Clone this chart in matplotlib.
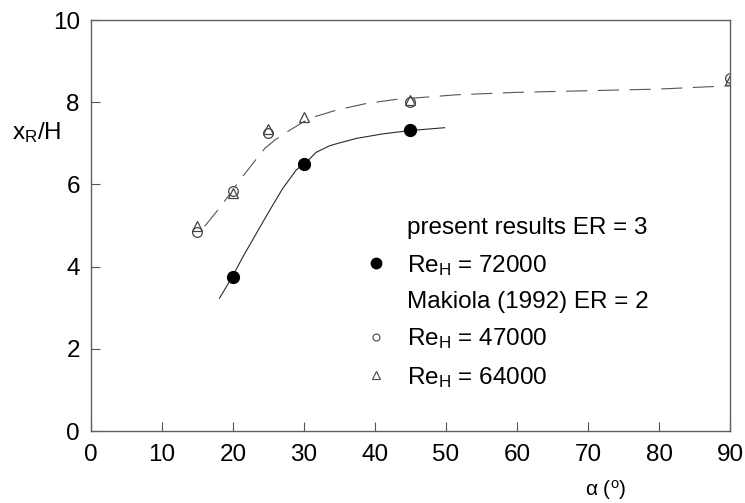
import matplotlib
matplotlib.use("Agg")
import matplotlib.pyplot as plt
from matplotlib.lines import Line2D

plt.rcParams.update({
    "font.family": ["Liberation Sans", "DejaVu Sans"],
    "font.size": 17.5,
    "mathtext.default": "regular",
})

# present results, ER = 3, Re_H = 72000
alpha_present = [20, 30, 45]
xr_present = [3.75, 6.5, 7.32]

# Makiola (1992), ER = 2
alpha_47k = [15, 20, 25, 45, 90]
xr_47k = [4.85, 5.85, 7.26, 8.01, 8.6]
alpha_64k = [15, 20, 25, 30, 45, 90]
xr_64k = [5.0, 5.8, 7.34, 7.65, 8.05, 8.55]

# fitted curves
fit_present_a = [18.1, 19.9, 21.4, 23.3, 25.2, 27.0, 28.9, 30.0, 30.8, 31.7,
                 33.6, 35.0, 37.4, 41.1, 44.9, 49.8]
fit_present_x = [3.23, 3.75, 4.24, 4.81, 5.38, 5.9, 6.35, 6.51, 6.62, 6.78,
                 6.94, 7.01, 7.12, 7.23, 7.31, 7.38]
fit_makiola_a = [16.0, 17.7, 19.1, 21.0, 22.8, 24.5, 25.9, 28.0, 30.8, 34.6,
                 38.8, 43.0, 47.7, 51.4, 60, 70, 80, 90]
fit_makiola_x = [4.98, 5.34, 5.66, 6.11, 6.51, 6.88, 7.08, 7.32, 7.61, 7.81,
                 7.97, 8.07, 8.13, 8.18, 8.24, 8.28, 8.32, 8.4]

fig = plt.figure(figsize=(7.45, 5.03), dpi=100)
ax = fig.add_axes([0.1221, 0.1431, 0.8578, 0.8171])

ax.plot(fit_present_a, fit_present_x, color="#2a2a2a", lw=0.8)
ax.plot(fit_makiola_a, fit_makiola_x, color="#555555", lw=0.8,
        linestyle=(0, (19, 9.5)))

ax.plot(alpha_present, xr_present, "o", ms=8.5, color="black",
        linestyle="none")
ax.plot(alpha_47k, xr_47k, "o", ms=7, mfc="white", mec="#444444",
        mew=0.9, linestyle="none")
ax.plot(alpha_64k, xr_64k, "^", ms=7.5, mfc="none", mec="#444444",
        mew=0.9, linestyle="none")

ax.set_xlim(0, 90)
ax.set_ylim(0, 10)
ax.set_xticks(range(0, 91, 10))
ax.set_yticks(range(0, 11, 2))
ax.tick_params(direction="in", length=6.5, width=0.8, color="#555555",
               top=False, right=False)
ax.tick_params(axis="x", pad=9)
ax.tick_params(axis="y", pad=8)
for sp in ax.spines.values():
    sp.set_color("#606060")
    sp.set_linewidth(1.0)

ax.set_xlabel(r"$\alpha$ ($^{o}$)", fontsize=15)
ax.xaxis.set_label_coords(0.805, -0.115)
ax.set_ylabel(r"x$_{R}$/H", rotation=0, fontsize=17.5, va="center")
ax.yaxis.set_label_coords(-0.085, 0.725)

blank = Line2D([], [], linestyle="none")
handles = [
    blank,
    Line2D([], [], marker="o", ms=7.5, color="black", linestyle="none"),
    blank,
    Line2D([], [], marker="o", ms=5, mfc="white", mec="#444444", mew=0.8,
           linestyle="none"),
    Line2D([], [], marker="^", ms=6, mfc="none", mec="#444444", mew=0.8,
           linestyle="none"),
]
labels = [
    "present results ER = 3",
    r"Re$_{H}$ = 72000",
    "Makiola (1992) ER = 2",
    r"Re$_{H}$ = 47000",
    r"Re$_{H}$ = 64000",
]
ax.legend(handles, labels, loc="upper left", bbox_to_anchor=(0.43, 0.52),
          frameon=False, handlelength=0.85, handletextpad=0.85,
          borderpad=0, borderaxespad=0, labelspacing=0.55, fontsize=17.5)

fig.savefig("out.png", dpi=100)
